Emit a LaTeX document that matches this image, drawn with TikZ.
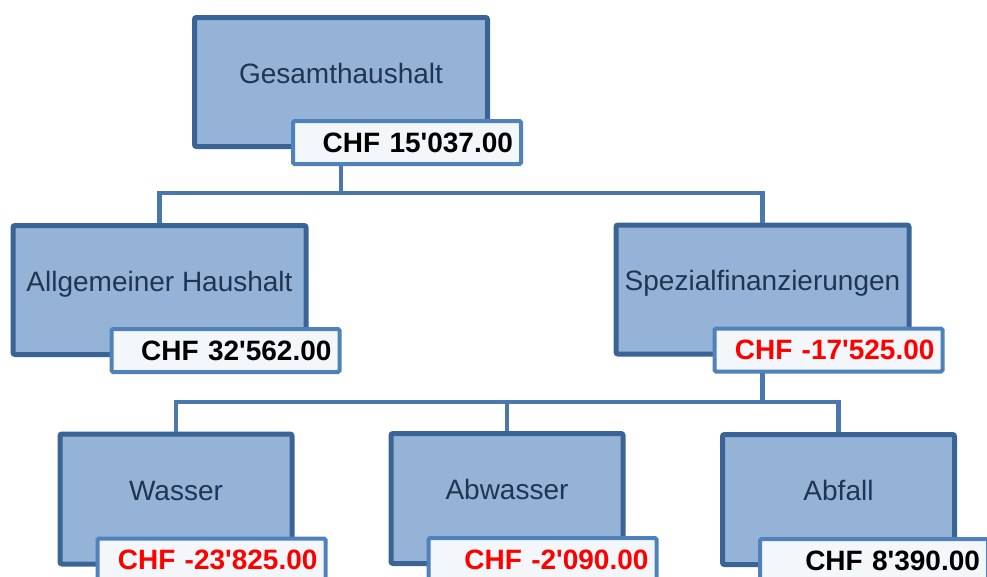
\documentclass[tikz,border=0pt]{standalone}
\usepackage{fontspec}
\setmainfont{Liberation Sans}
\usetikzlibrary{positioning}
\definecolor{boxfill}{HTML}{95B3D7}
\definecolor{boxline}{HTML}{3B6496}
\definecolor{valline}{HTML}{4F81BD}
\definecolor{valfill}{HTML}{F4F7FA}
\definecolor{linkline}{HTML}{4A77AE}
\definecolor{labeltext}{HTML}{1F3552}
\newcommand{\ap}{\textquotesingle}
\tikzset{
  unit/.style={draw=boxline,fill=boxfill,line width=5pt,rounded corners=2pt,
    text=labeltext,font=\fontsize{28}{32}\selectfont,text height=20pt,text depth=18pt},
  topunit/.style={unit,minimum width=293pt,minimum height=129pt},
  subunit/.style={unit,minimum width=232pt,minimum height=130pt},
  amount/.style={draw=valline,fill=valfill,line width=4pt,rounded corners=1.5pt,
    minimum height=43pt,text width=212pt,inner xsep=8pt,align=right,
    font=\bfseries\fontsize{28}{32}\selectfont,
    below left=-30pt and -33pt of #1.south east},
  link/.style={draw=linkline,line width=4.5pt}
}
\begin{document}
\begin{tikzpicture}[x=1pt,y=-1pt]
         \useasboundingbox (0,0) rectangle (987,576) ;
         \clip (0,0) rectangle (987,576) ;
         % units
         \node[topunit] (gh) at (341,82) {Gesamthaushalt} ;
         \node[topunit] (ah) at (159.5,290) {Allgemeiner Haushalt} ;
         \node[topunit] (sf) at (762.5,289.5) {Spezialfinanzierungen} ;
         \node[subunit] (wa) at (176,499) {Wasser} ;
         \node[subunit] (aw) at (507,498.5) {Abwasser} ;
         \node[subunit] (af) at (838.5,499.5) {Abfall} ;
         % links
         \coordinate (bus1) at (341,193) ;
         \coordinate (bus2) at (762.5,402) ;
         \draw[link] (gh.south) -- (bus1) -| (ah.north) ;
         \draw[link] (bus1) -| (sf.north) ;
         \draw[link] (sf.south) -- (bus2) -| (wa.north) ;
         \draw[link] (bus2) -| (aw.north) ;
         \draw[link] (bus2) -| (af.north) ;
         % amounts
         \node[amount=gh] (ghv) {CHF 15\ap037.00} ;
         \node[amount=ah] (ahv) {CHF 32\ap562.00} ;
         \node[amount=sf,text=red] (sfv) {CHF -17\ap525.00} ;
         \node[amount=wa,text=red] (wav) {CHF -23\ap825.00} ;
         \node[amount=aw,text=red] (awv) {CHF -2\ap090.00} ;
         \node[amount=af] (afv) {CHF 8\ap390.00} ;
      \end{tikzpicture}
\end{document}
